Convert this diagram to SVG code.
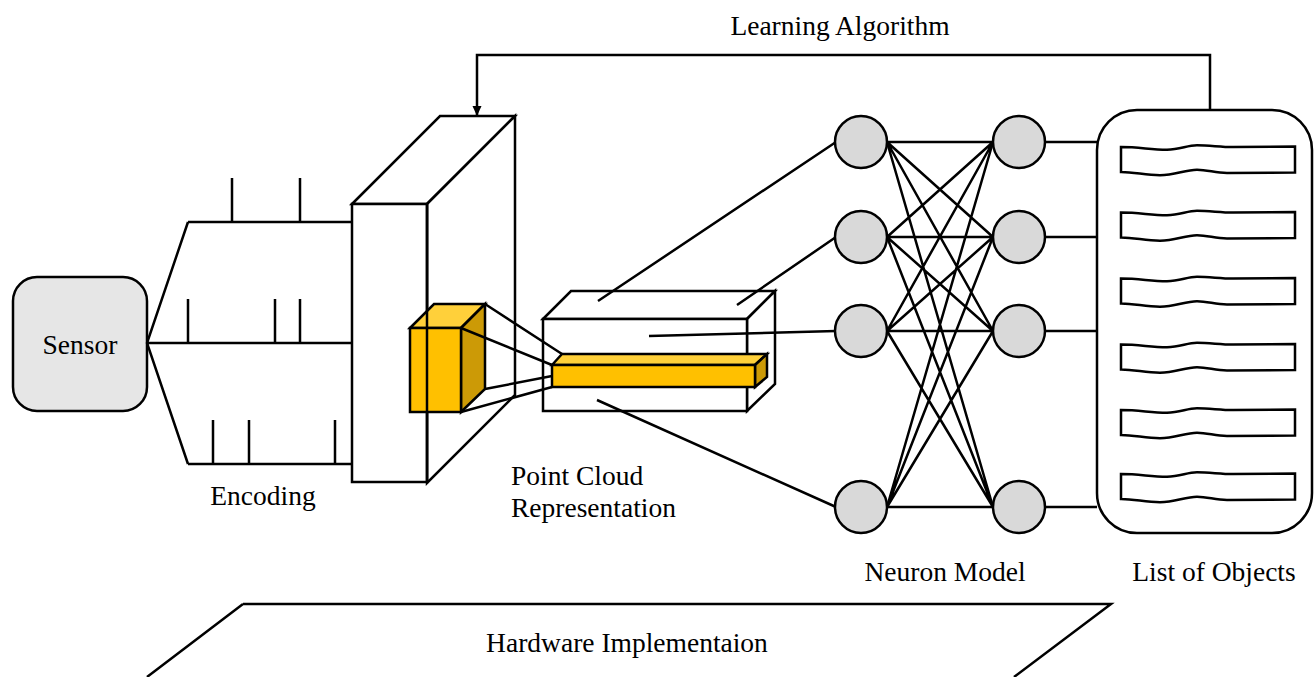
<svg xmlns="http://www.w3.org/2000/svg" width="1314" height="677" viewBox="0 0 1314 677">
<style>
.s{stroke:#000;stroke-width:2.5;fill:none;stroke-linejoin:miter}
.w{stroke:#000;stroke-width:2.5;fill:#fff}
.t{font-family:"Liberation Serif","Times New Roman",serif;font-size:27.5px;fill:#000}
.n{stroke:#000;stroke-width:2.5;fill:#d9d9d9}
.yf{fill:#FFC000;stroke:#000;stroke-width:2.5}
.yt{fill:#FFD03A;stroke:#000;stroke-width:2.5}
.yr{fill:#CC9A06;stroke:#000;stroke-width:2.5}
</style>
<defs>
<marker id="arr" markerWidth="10" markerHeight="10" refX="9" refY="5" orient="auto" markerUnits="userSpaceOnUse">
<path d="M0,0.5 L10,5 L0,9.5 z" fill="#000"/>
</marker>
<path id="item" d="M1121,0 C1140,0 1150,2.7 1167,2.7 C1180,2.7 1187,-1.7 1197,-1.7 C1210,-1.7 1220,0 1233,0 L1295,-0.5 L1295,25.5 C1260,25.7 1240,26 1227,26 C1215,26 1208,22.7 1197,22.7 C1185,22.7 1175,28.3 1160,28.3 C1145,28.3 1135,25 1121,25 Z" fill="#fff" stroke="#000" stroke-width="2.5"/>
</defs>
<rect width="1314" height="677" fill="#fff"/>

<g id="hardware">
<path class="s" d="M243,604 L1111,604 L1014,677 M243,604 L147,677"/>
<text class="t" x="627" y="652" text-anchor="middle">Hardware Implementaion</text>
</g>

<g id="learning-label">
<text class="t" x="840" y="35" text-anchor="middle">Learning Algorithm</text>
</g>

<g id="sensor">
<rect x="13" y="277" width="134" height="134" rx="24" ry="24" fill="#e6e6e6" stroke="#000" stroke-width="2.5"/>
<text class="t" x="80" y="354" text-anchor="middle">Sensor</text>
</g>

<g id="encoding">
<path class="s" d="M232,178 V222 M300,178 V222 M188,299 V343 M275,299 V343 M300,299 V343 M213,420 V464 M249,420 V464 M335,420 V464"/>
<text class="t" x="263" y="505" text-anchor="middle">Encoding</text>
</g>

<g id="feature-volume">
<path class="w" d="M352,204 L440,116 L515,116 L427,204 Z"/>
<path class="w" d="M427,204 L515,116 L515,395 L427,483 Z"/>
<rect class="w" x="352" y="204" width="75" height="278"/>
<path class="yt" d="M410,328 L434,304 L485,304 L461,328 Z"/>
<path class="yr" d="M461,328 L485,304 L485,389 L461,412 Z"/>
<rect class="yf" x="410" y="328" width="51" height="84"/>
<path class="s" d="M427,204 V482"/>
</g>

<g id="point-cloud">
<path class="w" d="M543,319 L571,291 L775,291 L747,319 Z"/>
<path class="w" d="M747,319 L775,291 L775,384 L747,411 Z"/>
<rect class="w" x="543" y="319" width="204" height="92"/>
<path class="yt" d="M552,365 L562,354 L767,354 L755,365 Z"/>
<path class="yr" d="M755,365 L767,354 L767,377 L755,387 Z"/>
<rect class="yf" x="552" y="365" width="203" height="22"/>
<text class="t" x="511" y="485">Point Cloud</text>
<text class="t" x="511" y="517">Representation</text>
</g>

<g id="connectors">
<path class="s" d="M188,222 L147,343 L188,464 M188,222 H352 M147,343 H352 M188,464 H352"/>
<path class="s" d="M485,304 L562,354 M461,328 L552,365 M485,389 L552,376 M461,412 L552,387"/>
<path class="s" d="M598,301 L836,142 M737,305 L836,237 M649,336 L836,331 M597,400 L836,507"/>
<path class="s" d="M887,142 L993,142 M887,142 L993,237 M887,142 L993,331 M887,142 L993,507
M887,237 L993,142 M887,237 L993,237 M887,237 L993,331 M887,237 L993,507
M887,331 L993,142 M887,331 L993,237 M887,331 L993,331 M887,331 L993,507
M887,507 L993,142 M887,507 L993,237 M887,507 L993,331 M887,507 L993,507"/>
<path class="s" d="M1045,142 H1097 M1045,237 H1097 M1045,331 H1097 M1045,507 H1097"/>
<path class="s" d="M1210,110 V55 H477 V115" marker-end="url(#arr)"/>
</g>

<g id="neuron-model">
<circle class="n" cx="861" cy="142" r="26"/>
<circle class="n" cx="861" cy="237" r="26"/>
<circle class="n" cx="861" cy="331" r="26"/>
<circle class="n" cx="861" cy="507" r="26"/>
<circle class="n" cx="1019" cy="142" r="26"/>
<circle class="n" cx="1019" cy="237" r="26"/>
<circle class="n" cx="1019" cy="331" r="26"/>
<circle class="n" cx="1019" cy="507" r="26"/>
<text class="t" x="945" y="581" text-anchor="middle">Neuron Model</text>
</g>

<g id="list-of-objects">
<rect class="w" x="1097" y="110" width="215" height="423" rx="40" ry="40"/>
<use href="#item" transform="translate(0,147)"/>
<use href="#item" transform="translate(0,212.5)"/>
<use href="#item" transform="translate(0,278.5)"/>
<use href="#item" transform="translate(0,344.5)"/>
<use href="#item" transform="translate(0,410)"/>
<use href="#item" transform="translate(0,474)"/>
<text class="t" x="1214" y="581" text-anchor="middle">List of Objects</text>
</g>
</svg>
